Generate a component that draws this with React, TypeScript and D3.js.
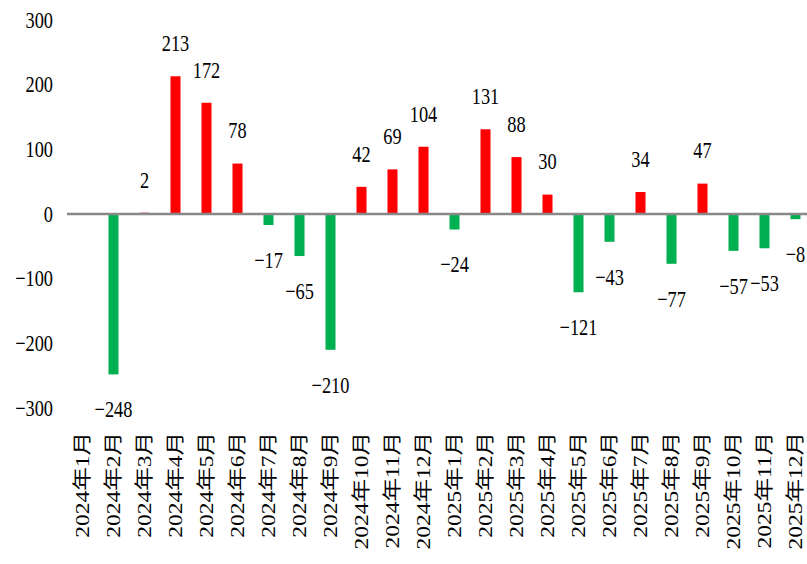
import React, { useEffect } from "react";
import * as d3 from "d3";

const categories: string[] = [
  "2024年1月", "2024年2月", "2024年3月", "2024年4月", "2024年5月", "2024年6月",
  "2024年7月", "2024年8月", "2024年9月", "2024年10月", "2024年11月", "2024年12月",
  "2025年1月", "2025年2月", "2025年3月", "2025年4月", "2025年5月", "2025年6月",
  "2025年7月", "2025年8月", "2025年9月", "2025年10月", "2025年11月", "2025年12月",
];
const values: (number | null)[] = [
  null, -248, 2, 213, 172, 78, -17, -65, -210, 42, 69, 104,
  -24, 131, 88, 30, -121, -43, 34, -77, 47, -57, -53, -8,
];
const yTicks: number[] = [300, 200, 100, 0, -100, -200, -300];

const W = 807;
const H = 564;
const FONT = "'Liberation Serif', 'Noto Sans CJK SC', serif";

export default function App() {
  useEffect(() => {
    document.body.style.margin = "0";
  }, []);

  const x = d3
    .scaleBand<string>()
    .domain(categories)
    .range([67, 811])
    .paddingInner(0.677)
    .paddingOuter(0.677 / 2);
  const y = d3.scaleLinear().domain([-300, 300]).range([408, 20]);
  const bw = x.bandwidth();
  const y0 = y(0);

  return (
    <svg width={W} height={H} style={{ display: "block", background: "#fff" }}>
      {/* y tick labels */}
      {yTicks.map((t) => (
        <text
          key={t}
          transform={`translate(53,${y(t)}) scale(0.78,1)`}
          textAnchor="end"
          dominantBaseline="central"
          fontFamily={FONT}
          fontSize={23.5}
          fill="#000"
        >
          {t < 0 ? `−${Math.abs(t)}` : t}
        </text>
      ))}
      {/* bars */}
      {categories.map((c, i) => {
        const v = values[i];
        if (v === null) return null;
        const top = Math.min(y(v), y0);
        const h = Math.abs(y(v) - y0);
        return (
          <rect
            key={c}
            x={x(c)!}
            y={top}
            width={bw}
            height={Math.max(h, 0.5)}
            fill={v >= 0 ? "#FF0000" : "#00B050"}
          />
        );
      })}
      {/* zero line */}
      <line x1={67} x2={W} y1={y0} y2={y0} stroke="#888" strokeWidth={2.5} />
      {/* value labels */}
      {categories.map((c, i) => {
        const v = values[i];
        if (v === null) return null;
        const cx = x(c)! + bw / 2;
        const ly = v >= 0 ? y(v) - 33 : y(v) + 35;
        return (
          <text
            key={"l" + c}
            transform={`translate(${cx},${ly}) scale(0.78,1)`}
            textAnchor="middle"
            dominantBaseline="central"
            fontFamily={FONT}
            fontSize={23.5}
            fill="#000"
          >
            {v < 0 ? `−${Math.abs(v)}` : v}
          </text>
        );
      })}
      {/* x labels */}
      {categories.map((c) => {
        const cx = x(c)! + bw / 2;
        return (
          <text
            key={"x" + c}
            transform={`translate(${cx},432) rotate(-90) scale(1,0.8)`}
            textAnchor="end"
            dominantBaseline="central"
            fontFamily={FONT}
            fontSize={23.5}
            fill="#000"
          >
            {c}
          </text>
        );
      })}
    </svg>
  );
}
